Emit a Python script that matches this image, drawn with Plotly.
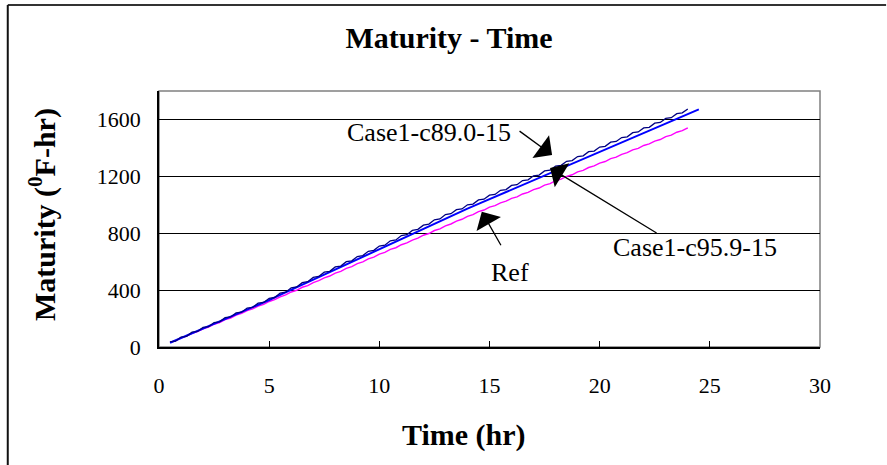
import numpy as np
import plotly.graph_objects as go

# Time grids (hr)
t_fine = np.arange(0.5, 24.001, 0.25)   # 95 samples
t_half = np.arange(0.5, 24.501, 0.5)    # 49 samples

# Maturity (°F-hr)
case_c89 = [
    36, 41, 70, 75, 104, 109, 138, 143, 172, 177, 206, 211, 240, 245, 274, 279,
    308, 313, 342, 348, 379, 385, 416, 422, 452, 459, 489, 496, 526, 532, 563, 569,
    600, 606, 636, 643, 673, 680, 710, 716, 747, 753, 784, 790, 820, 827, 857, 864,
    894, 900, 931, 937, 966, 971, 1000, 1005, 1034, 1039, 1068, 1073, 1102, 1107,
    1136, 1141, 1170, 1175, 1204, 1209, 1238, 1243, 1272, 1277, 1306, 1311, 1339,
    1344, 1373, 1378, 1406, 1411, 1440, 1445, 1473, 1478, 1507, 1512, 1540, 1545,
    1574, 1579, 1607, 1612, 1641, 1646, 1674,
]
ref = [
    32, 44, 64, 76, 96, 108, 128, 140, 160, 172, 192, 204, 224, 236, 256, 268,
    288, 300, 320, 333, 353, 366, 387, 399, 420, 432, 453, 466, 486, 499, 520, 532,
    553, 565, 586, 599, 619, 632, 653, 665, 686, 698, 719, 732, 752, 765, 786, 798,
    819, 831, 852, 865, 885, 898, 919, 931, 952, 963, 983, 994, 1014, 1025, 1045,
    1056, 1076, 1087, 1107, 1118, 1138, 1149, 1169, 1180, 1200, 1211, 1231, 1242,
    1262, 1273, 1293, 1304, 1324, 1335, 1355, 1366, 1386, 1397, 1417, 1428, 1448,
    1459, 1479, 1490, 1510, 1521, 1541,
]
case_c95 = [
    30, 63, 97, 130, 163, 197, 230, 263, 297, 330, 366, 402, 438, 474, 510, 546,
    582, 618, 654, 690, 726, 762, 798, 834, 870, 906, 939, 973, 1006, 1039, 1072,
    1106, 1139, 1172, 1205, 1239, 1272, 1305, 1338, 1372, 1405, 1438, 1471, 1505,
    1538, 1571, 1604, 1638, 1671,
]

x_ticks = [0, 5, 10, 15, 20, 25, 30]
y_ticks = [0, 400, 800, 1200, 1600]

SERIF = "Liberation Serif, Times New Roman, serif"

fig = go.Figure()
fig.add_trace(go.Scatter(x=t_fine, y=ref, mode="lines", name="Ref",
                         line=dict(color="#FF00FF", width=1.4)))
fig.add_trace(go.Scatter(x=t_half, y=case_c95, mode="lines", name="Case1-c95.9-15",
                         line=dict(color="#0000FF", width=2)))
fig.add_trace(go.Scatter(x=t_fine, y=case_c89, mode="lines", name="Case1-c89.0-15",
                         line=dict(color="#000080", width=1.3)))

# Gray frame of the plot area (top/right), axis lines drawn black over it
fig.add_shape(type="rect", xref="paper", yref="paper", x0=0, y0=0, x1=1, y1=1,
              line=dict(color="#808080", width=1.5), layer="below")

# Outer chart frame (left and top edges)
fig.add_shape(type="line", xref="paper", yref="paper", x0=-0.2288, x1=1.1, y0=1.3359, y1=1.3359,
              line=dict(color="#333333", width=2))
fig.add_shape(type="line", xref="paper", yref="paper", x0=-0.2288, x1=-0.2288, y0=-0.48, y1=1.3359,
              line=dict(color="#111111", width=2))

arrow_style = dict(showarrow=True, arrowhead=1, arrowsize=3.6, arrowwidth=1.3,
                   arrowcolor="black", text="")

# Callout arrows
fig.add_annotation(x=17.84, y=1350, ax=-34, ay=-25, **arrow_style)
fig.add_annotation(x=17.75, y=1259, ax=108, ay=66, **arrow_style)
fig.add_annotation(x=14.65, y=951, ax=20, ay=35, **arrow_style)

label_font = dict(family=SERIF, size=26, color="black")
fig.add_annotation(x=12.25, y=1505, text="Case1-c89.0-15", showarrow=False, font=label_font,
                   xanchor="center", yanchor="middle")
fig.add_annotation(x=24.33, y=703, text="Case1-c95.9-15", showarrow=False, font=label_font,
                   xanchor="center", yanchor="middle")
fig.add_annotation(x=15.93, y=527, text="Ref", showarrow=False, font=label_font,
                   xanchor="center", yanchor="middle")

# Axis titles
fig.add_annotation(x=0.4614, y=-0.34375, xref="paper", yref="paper", showarrow=False,
                   text="<b>Time (hr)</b>", font=dict(family=SERIF, size=30, color="black"),
                   xanchor="center", yanchor="middle")
fig.add_annotation(x=-0.177, y=0.5156, xref="paper", yref="paper", showarrow=False,
                   text="<b>Maturity (<sup>0</sup>F-hr)</b>", textangle=-90,
                   font=dict(family=SERIF, size=30, color="black"),
                   xanchor="center", yanchor="middle")

fig.update_layout(
    width=887, height=465,
    margin=dict(l=159, r=67, t=91, b=118),
    paper_bgcolor="white", plot_bgcolor="white",
    showlegend=False,
    title=dict(text="<b>Maturity - Time</b>", x=449 / 887, xanchor="center",
               y=(465 - 37) / 465, yanchor="middle",
               font=dict(family=SERIF, size=30, color="black")),
    xaxis=dict(range=[0, 30], tickvals=x_ticks, ticks="inside", ticklen=6,
               tickcolor="black", showline=True, linecolor="black", linewidth=1.5,
               showgrid=False, zeroline=False, ticklabelstandoff=18,
               tickfont=dict(family=SERIF, size=22, color="black")),
    yaxis=dict(range=[0, 1800], tickvals=y_ticks, ticks="inside", ticklen=6,
               tickcolor="black", showline=True, linecolor="black", linewidth=1.5,
               showgrid=True, gridcolor="black", gridwidth=1, zeroline=False,
               ticklabelstandoff=12,
               tickfont=dict(family=SERIF, size=22, color="black")),
)

fig.write_html("out.html")
